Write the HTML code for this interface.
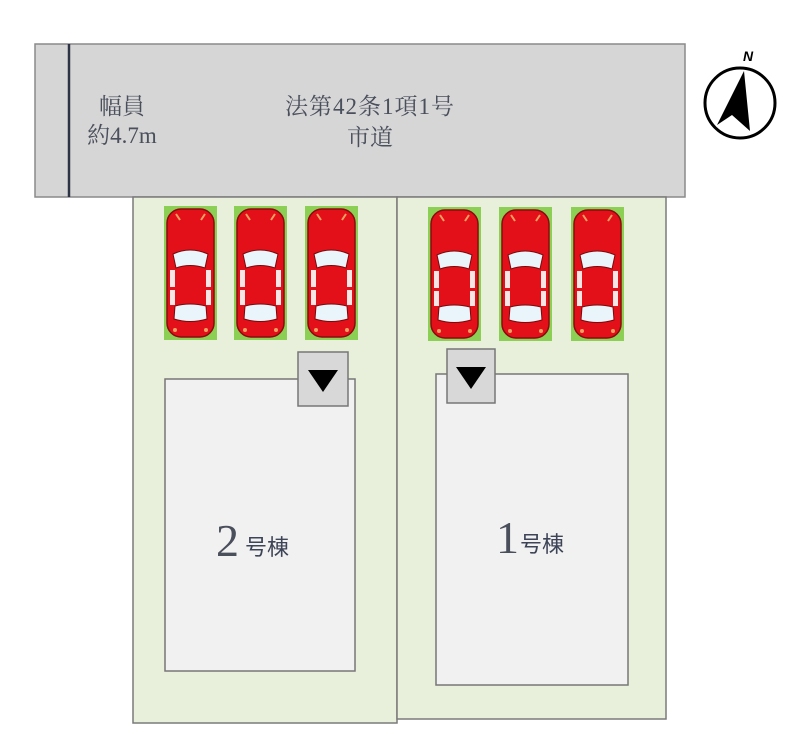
<!DOCTYPE html>
<html><head><meta charset="utf-8"><style>
html,body{margin:0;padding:0;background:#fff;}
svg{display:block}
.t{font-family:"Liberation Serif","Noto Serif CJK SC",serif;fill:#4a4f5c;}
.s{font-family:"Liberation Sans","Noto Sans CJK SC",sans-serif;fill:#3d4457;}
</style></head><body>
<svg width="808" height="750" viewBox="0 0 808 750" xmlns="http://www.w3.org/2000/svg">
<defs>
<g id="car">
 <rect x="0" y="0" width="53" height="134" fill="#8ccf55"/>
 <rect x="3" y="3" width="47" height="128" rx="14" fill="#e3101a" stroke="#8a0a0e" stroke-width="1.5"/>
 <path d="M9 48 Q26 40 44 48 L41 62 Q26 57 12 62 Z" fill="#e9f4fb" stroke="#7a0a0a" stroke-width="1"/>
 <path d="M11 100 Q26 96 42 100 L43 113 Q26 118 10 113 Z" fill="#e9f4fb" stroke="#7a0a0a" stroke-width="1"/>
 <rect x="6" y="64" width="5" height="17" fill="#f6e6e6"/>
 <rect x="42" y="64" width="5" height="17" fill="#f6e6e6"/>
 <rect x="6" y="84" width="5" height="15" fill="#f6e6e6"/>
 <rect x="42" y="84" width="5" height="15" fill="#f6e6e6"/>
 <path d="M12 8 L16 14 M41 8 L37 14" stroke="#f5a060" stroke-width="2"/>
 <circle cx="11" cy="124" r="2" fill="#f5a060"/><circle cx="42" cy="124" r="2" fill="#f5a060"/>
</g>
</defs>
<rect x="35" y="44" width="650" height="153" fill="#d6d6d6" stroke="#8a8a8a" stroke-width="1.5"/>
<line x1="69" y1="44" x2="69" y2="197" stroke="#2c3445" stroke-width="2.5"/>
<text class="t" x="122" y="114" font-size="23" text-anchor="middle">幅員</text>
<text class="t" x="122" y="143" font-size="23" text-anchor="middle">約4.7m</text>
<text class="t" x="370" y="114" font-size="23" text-anchor="middle" letter-spacing="1">法第42条1項1号</text>
<text class="t" x="370" y="145" font-size="23" text-anchor="middle">市道</text>
<rect x="133" y="197" width="264" height="526" fill="#e8efdb" stroke="#7a7a7a" stroke-width="1.5"/>
<rect x="397" y="197" width="269" height="522" fill="#e8efdb" stroke="#7a7a7a" stroke-width="1.5"/>
<use href="#car" x="164" y="206"/>
<use href="#car" x="234" y="206"/>
<use href="#car" x="305" y="206"/>
<use href="#car" x="428" y="207"/>
<use href="#car" x="499" y="207"/>
<use href="#car" x="571" y="207"/>
<rect x="165" y="379" width="190" height="292" fill="#f1f1f1" stroke="#777" stroke-width="1.5"/>
<rect x="436" y="374" width="192" height="311" fill="#f1f1f1" stroke="#777" stroke-width="1.5"/>
<rect x="298" y="352" width="50" height="54" fill="#d8d8d8" stroke="#777" stroke-width="1.5"/>
<path d="M308 370 L338 370 L323 392 Z" fill="#000"/>
<rect x="447" y="349" width="48" height="54" fill="#d8d8d8" stroke="#777" stroke-width="1.5"/>
<path d="M456 367 L486 367 L471 389 Z" fill="#000"/>
<text class="t" x="216" y="556" font-size="46">2</text>
<text class="s" x="245" y="555" font-size="22">号棟</text>
<text class="t" x="496" y="553" font-size="46">1</text>
<text class="s" x="520" y="552" font-size="22">号棟</text>
<circle cx="740" cy="103" r="35" fill="none" stroke="#000" stroke-width="3"/>
<path d="M744 71 L717 125 L732 115 L750 131 Z" fill="#000"/>
<text x="748" y="61" font-family="Liberation Sans,sans-serif" font-size="14" font-weight="bold" font-style="italic" text-anchor="middle" fill="#000">N</text>
</svg>
</body></html>
